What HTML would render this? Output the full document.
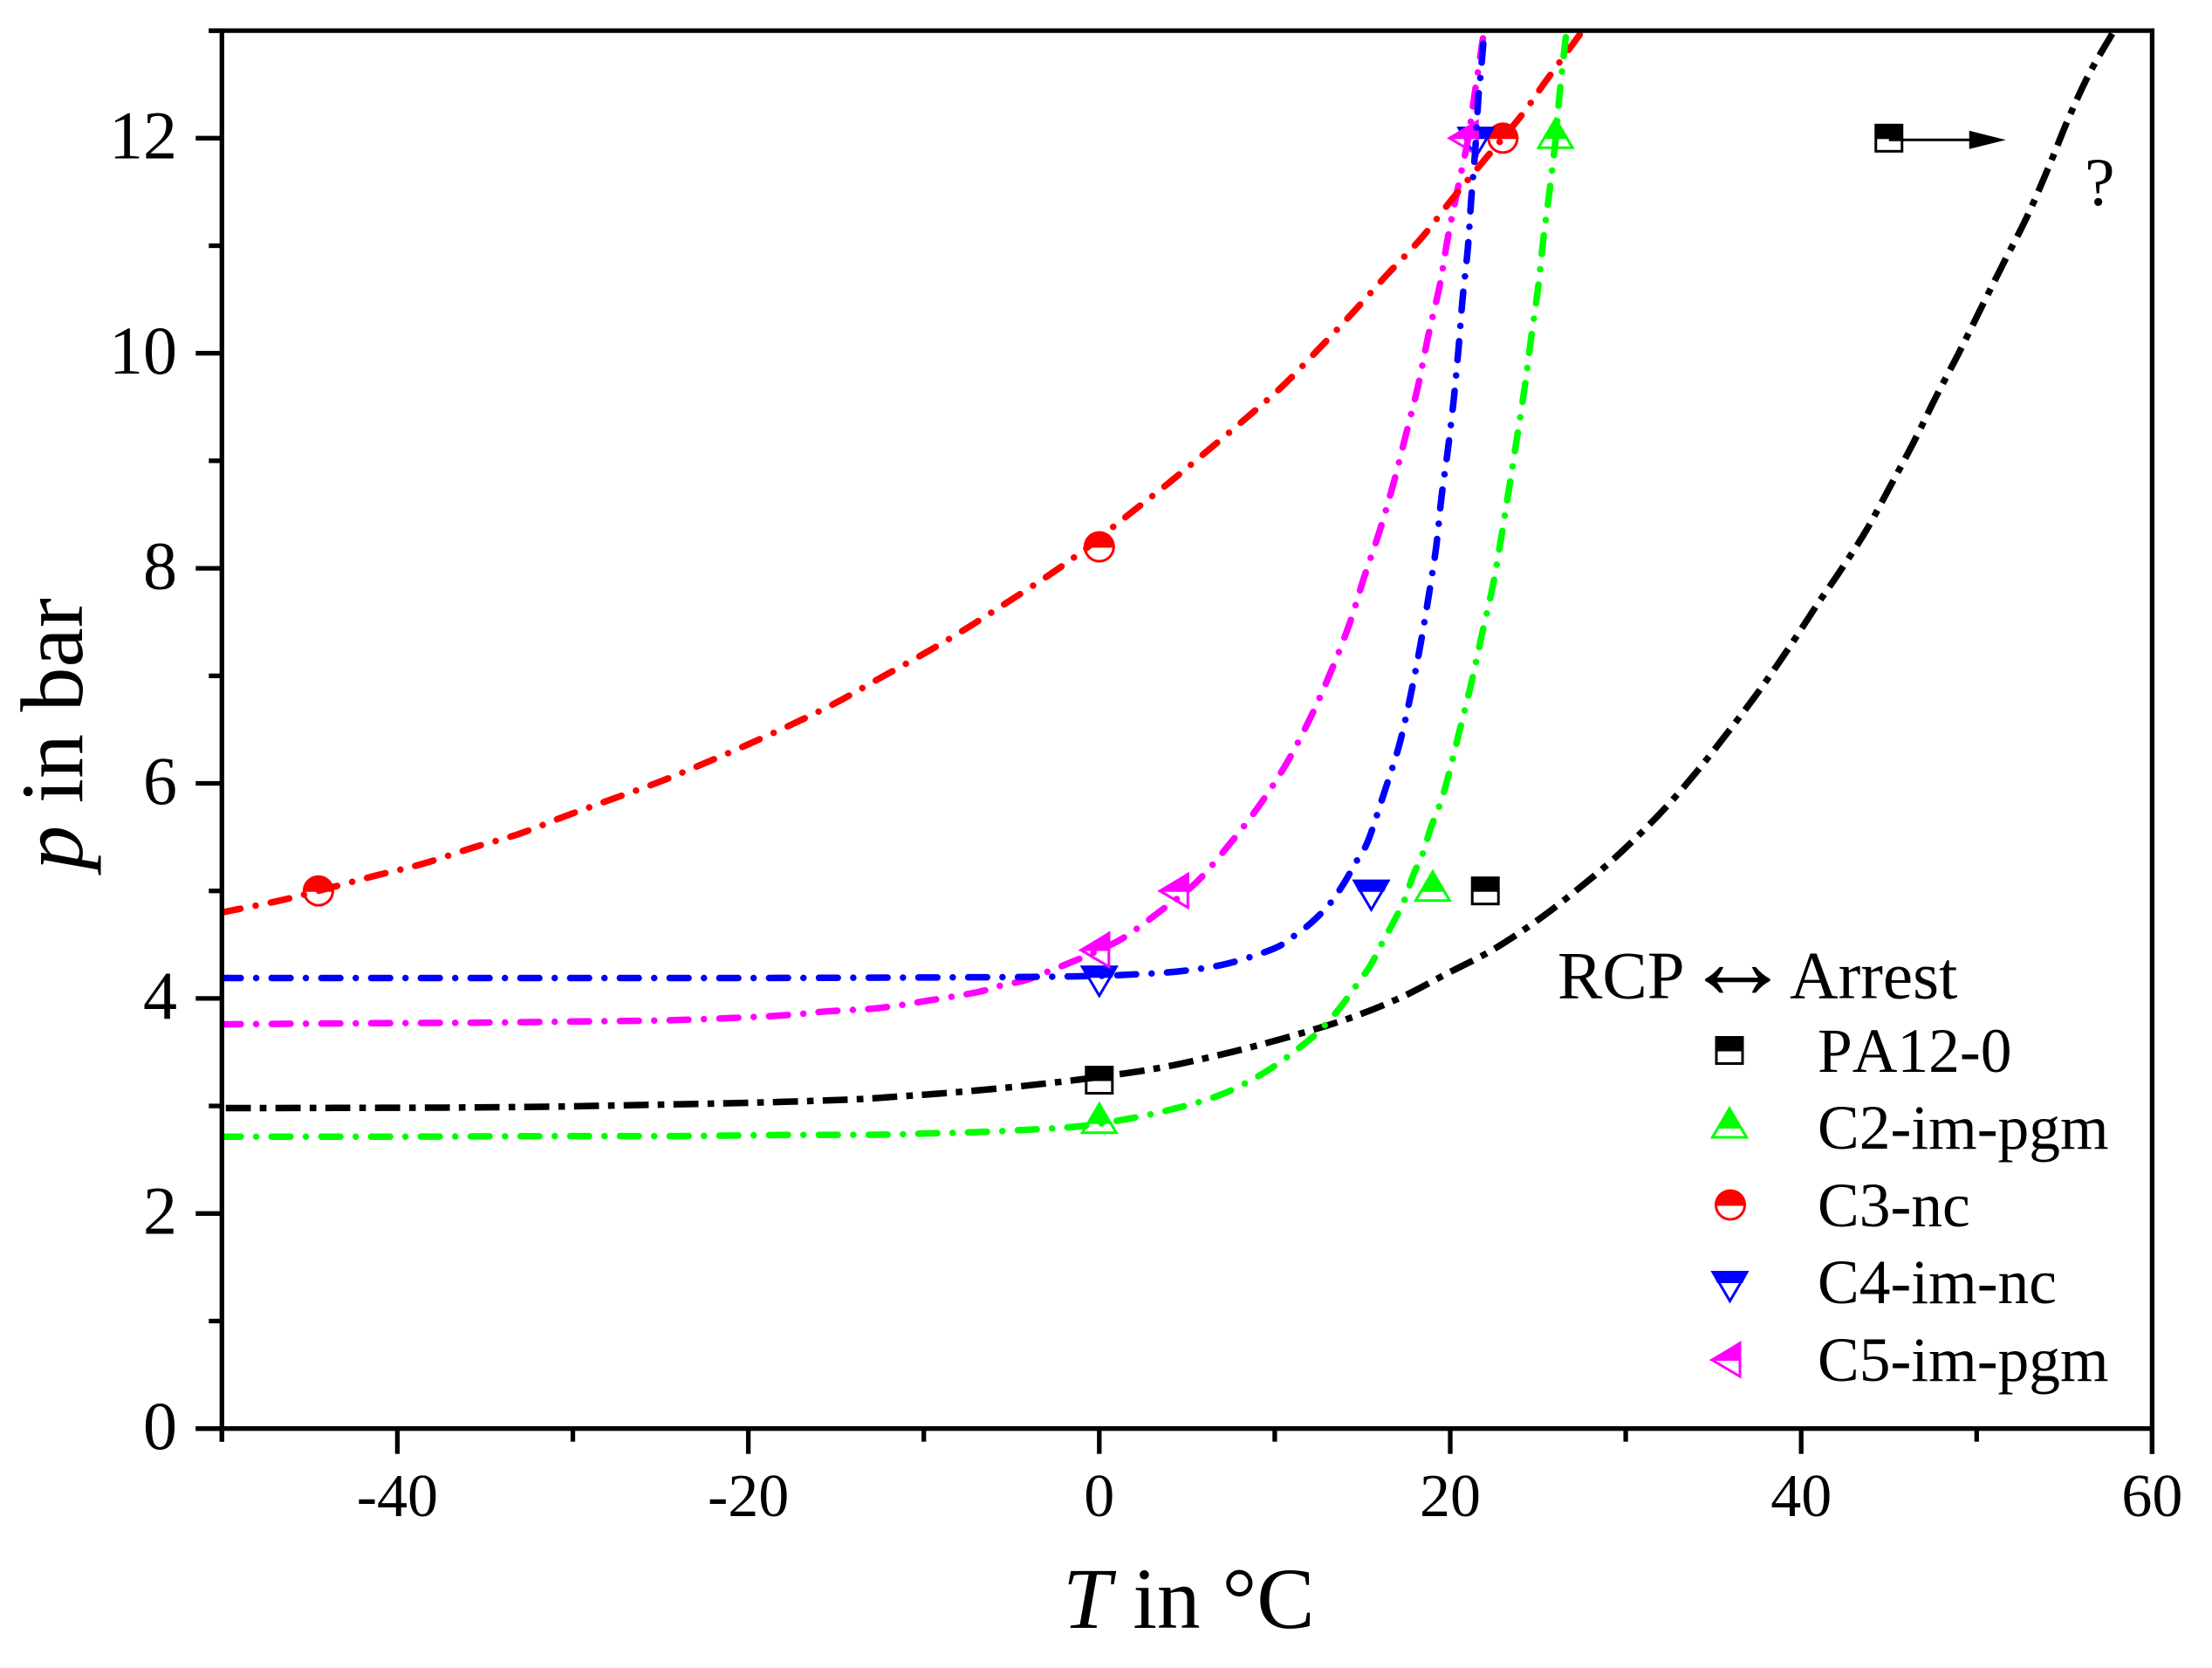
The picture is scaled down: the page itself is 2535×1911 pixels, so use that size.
<!DOCTYPE html>
<html lang="en">
<head>
<meta charset="utf-8">
<title>RCP to Arrest transition chart</title>
<style>
html,body{margin:0;padding:0;background:#fff;}
svg{display:block;font-family:"Liberation Serif","Times New Roman",serif;fill:#000;font-kerning:none;}
</style>
</head>
<body>
<svg id="chart" xmlns="http://www.w3.org/2000/svg" width="2535" height="1911" viewBox="0 0 2535 1911">
  <defs><clipPath id="plot-clip"><rect x="254" y="35" width="2212" height="1602"/></clipPath></defs>
  <rect x="0" y="0" width="2535" height="1911" fill="#fff"/>
  <g id="markers"></g>
  <g id="curves" clip-path="url(#plot-clip)"></g>
  <g id="axes"></g>
  <g id="annotation">
    <text x="2389" y="235" font-size="78">?</text>
  </g>
  <text x="1218" y="1865" font-size="99.5"><tspan font-style="italic">T</tspan> in °C</text>
  <text transform="translate(94 841) rotate(-90)" text-anchor="middle" font-size="102"><tspan font-style="italic">p</tspan> in bar</text>
  <g id="legend">
    <text x="1785" y="1143.5" font-size="77">RCP</text>
    <text x="1991.5" y="1143.5" font-size="126" text-anchor="middle">↔</text>
    <text x="2051" y="1143.5" font-size="77">Arrest</text>
    <text x="2083" y="1228" font-size="71.5">PA12-0</text>
    <text x="2083" y="1316" font-size="71.5">C2-im-pgm</text>
    <text x="2083" y="1405" font-size="71.5">C3-nc</text>
    <text x="2083" y="1493" font-size="71.5">C4-im-nc</text>
    <text x="2083" y="1582" font-size="71.5">C5-im-pgm</text>
  </g>
</svg>
<script>
// ---- axis tick data ----
const xMajorTicks = [-40, -20, 0, 20, 40, 60];
const xMinorTicks = [-50, -30, -10, 10, 30, 50];
const yMajorTicks = [0, 2, 4, 6, 8, 10, 12];
const yMinorTicks = [1, 3, 5, 7, 9, 11, 13];

// ---- measured points (T in C, p in bar) ----
const pa12PointT = [0, 22, 45];
const pa12PointP = [3.24, 5, 12];
const c2PointT = [0, 19, 26];
const c2PointP = [2.84, 5, 12];
const c3PointT = [-44.5, 0, 23];
const c3PointP = [5, 8.2, 12];
const c4PointT = [0, 15.5, 21.46];
const c4PointP = [4.2, 5, 12];
const c5PointT = [0, 4.5, 21];
const c5PointP = [4.45, 5, 12];

// ---- guide curves ----
const pa12CurveT = [-50,-44,-37.3,-31.6,-25.9,-19.9,-14.2,-11.3,-8.36,-5.3,-2.46,0,3.3,6.2,8.95,11.8,14.5,17.2,19.8,22.4,25,27.3,29.4,31.9,33.9,35.75,37.6,39.3,40.9,42.2,43.66,45,46.4,47.7,49.07,50.4,51.57,52.9,54.1,55.25,56.45,57.76];
const pa12CurveP = [2.98,2.982,2.985,2.993,3.01,3.03,3.06,3.09,3.125,3.17,3.22,3.27,3.35,3.45,3.56,3.69,3.83,4.01,4.23,4.45,4.73,5.02,5.31,5.71,6.08,6.46,6.86,7.26,7.66,7.97,8.34,8.74,9.17,9.6,10.03,10.47,10.85,11.28,11.73,12.19,12.61,12.98];
const c5CurveT = [-50,-41,-35.3,-29.6,-23.9,-18.3,-15.5,-12.6,-9.75,-6.9,-5.6,-4.2,-2.93,-1.55,0,1.44,3.38,5.47,7.4,9.1,10.65,12.06,13.2,14.25,15.1,16,16.8,17.5,18.17,18.76,19.4,19.87,20.44,21,21.4,21.92];
const c5CurveP = [3.76,3.77,3.775,3.786,3.8,3.84,3.88,3.91,3.98,4.06,4.12,4.17,4.25,4.34,4.45,4.57,4.8,5.07,5.43,5.79,6.18,6.62,7.04,7.48,7.92,8.36,8.81,9.26,9.7,10.17,10.63,11.08,11.54,11.98,12.42,12.99];
const c4CurveT = [-50,-40,-30,-20,-10,-4,0,1.54,4.43,7.2,9.9,11,12.05,13.08,13.9,14.6,15.3,16.25,17.1,17.73,18.28,18.76,19.2,19.5,19.87,20.2,20.47,20.7,21,21.2,21.43,21.6,21.73,21.95];
const c4CurveP = [4.19,4.19,4.19,4.19,4.195,4.2,4.21,4.22,4.25,4.32,4.46,4.57,4.7,4.87,5.06,5.26,5.46,5.92,6.36,6.81,7.27,7.73,8.2,8.66,9.11,9.57,10.04,10.5,10.97,11.44,11.9,12.37,12.59,13];
const c3CurveT = [-50,-46.7,-44.5,-41.3,-38.6,-35.75,-33.07,-30.36,-27.83,-25.13,-22.6,-20.05,-17.5,-15,-12.6,-10.06,-7.78,-5.47,-2.93,-1.04,1.6,3.93,6.07,8.25,10.35,12.33,14.35,16.34,18.35,20.14,21.96,24.05,25.4,27.5];
const c3CurveP = [4.8,4.91,5,5.14,5.25,5.4,5.53,5.7,5.85,6.01,6.18,6.36,6.55,6.75,6.97,7.2,7.42,7.66,7.93,8.15,8.49,8.79,9.08,9.38,9.68,10.01,10.36,10.72,11.07,11.44,11.8,12.21,12.52,12.99];
const c2CurveT = [-50,-40,-30,-23.9,-18.3,-12.6,-9.75,-6.9,-4,-1.2,1.54,4.33,7,9.5,11.74,12.73,13.7,14.6,15.46,16.1,16.8,17.4,17.9,18.44,18.9,19.4,19.83,20.5,21.2,21.8,22.43,22.9,23.38,23.8,24.24,24.6,25,25.3,25.66,26,26.25,26.62];
const c2CurveP = [2.715,2.715,2.72,2.72,2.73,2.733,2.745,2.757,2.78,2.81,2.877,2.977,3.11,3.32,3.585,3.73,3.91,4.11,4.31,4.51,4.72,4.92,5.15,5.35,5.59,5.8,6.03,6.47,6.93,7.38,7.84,8.28,8.77,9.21,9.68,10.13,10.6,11.05,11.51,11.98,12.44,12.99];

const BLACK = '#000000', GREEN = '#00ff00', RED = '#ff0000', BLUE = '#0000ff', MAGENTA = '#ff00ff';
const NS = 'http://www.w3.org/2000/svg';

function xScale(t) { return 1259.8 + (t * 20.11); }
function yScale(p) { return 1636.7 - (p * 123.2); }

function make(parent, tag, attrs) {
  const el = document.createElementNS(NS, tag);
  for (const k in attrs) el.setAttribute(k, attrs[k]);
  parent.appendChild(el);
  return el;
}

function pts(list) { return list.map(function (q) { return q[0] + ',' + q[1]; }).join(' '); }

// half-filled marker: upper half solid, lower half outlined
function drawMarker(parent, kind, cx, cy, color, name) {
  const g = make(parent, 'g', {});
  
  
  const sw = 3;
  const common = { fill: 'none', stroke: color, 'stroke-width': sw, 'stroke-linejoin': 'miter', 'stroke-miterlimit': 8 };
  if (kind === 'square') {
    make(g, 'rect', { x: cx - 15, y: cy - 15, width: 30, height: 13 + 3, fill: color });
    make(g, 'rect', Object.assign({ x: cx - 15, y: cy - 15, width: 30, height: 30 }, common));
  } else if (kind === 'up') {
    make(g, 'polygon', { points: pts([[cx, cy - 25], [cx + 14.5, cy + 1], [cx - 14.5, cy + 1]]), fill: color });
    make(g, 'polygon', Object.assign({ points: pts([[cx, cy - 22], [cx + 19.5, cy + 11], [cx - 19.5, cy + 11]]) }, common));
  } else if (kind === 'circle') {
    make(g, 'path', { d: 'M' + (cx - 18) + ' ' + (cy + 1) + 'A18 18 0 0 1 ' + (cx + 18) + ' ' + (cy + 1) + 'Z', fill: color });
    make(g, 'circle', Object.assign({ cx: cx, cy: cy, r: 16.5 }, common));
  } else if (kind === 'down') {
    make(g, 'polygon', { points: pts([[cx - 21.5, cy - 13], [cx + 21.5, cy - 13], [cx + 14.5, cy + 1], [cx - 14.5, cy + 1]]), fill: color });
    make(g, 'polygon', Object.assign({ points: pts([[cx - 19.5, cy - 11.5], [cx + 19.5, cy - 11.5], [cx, cy + 21.5]]) }, common));
  } else if (kind === 'left') {
    make(g, 'polygon', { points: pts([[cx + 12.5, cy - 22], [cx + 12.5, cy + 1], [cx - 24, cy + 1]]), fill: color });
    make(g, 'polygon', Object.assign({ points: pts([[cx + 11, cy - 19], [cx + 11, cy + 19], [cx - 21, cy]]) }, common));
  }
  return g;
}

function smoothPath(tArr, pArr) {
  const xs = tArr.map(xScale), ys = pArr.map(yScale);
  let d = 'M' + xs[0].toFixed(2) + ' ' + ys[0].toFixed(2);
  for (let i = 0; i < xs.length - 1; i++) {
    const a = Math.max(i - 1, 0), b = Math.min(i + 2, xs.length - 1);
    const c1x = xs[i] + (xs[i + 1] - xs[a]) / 6, c1y = ys[i] + (ys[i + 1] - ys[a]) / 6;
    const c2x = xs[i + 1] - (xs[b] - xs[i]) / 6, c2y = ys[i + 1] - (ys[b] - ys[i]) / 6;
    d += 'C' + c1x.toFixed(2) + ' ' + c1y.toFixed(2) + ' ' + c2x.toFixed(2) + ' ' + c2y.toFixed(2) + ' ' + xs[i + 1].toFixed(2) + ' ' + ys[i + 1].toFixed(2);
  }
  return d;
}

const axes = document.getElementById('axes');
const markers = document.getElementById('markers');
const curves = document.getElementById('curves');
const annotation = document.getElementById('annotation');
const legend = document.getElementById('legend');
const AW = 5.3;

// markers
function drawSeriesMarkers(kind, tArr, pArr, color, prefix) {
  tArr.forEach(function (t, i) {
    drawMarker(markers, kind, xScale(t), yScale(pArr[i]), color, prefix + '-point-' + (i + 1));
  });
}
drawSeriesMarkers('square', pa12PointT, pa12PointP, BLACK, 'pa12-0');
drawSeriesMarkers('up', c2PointT, c2PointP, GREEN, 'c2-im-pgm');
drawSeriesMarkers('circle', c3PointT, c3PointP, RED, 'c3-nc');
drawSeriesMarkers('down', c4PointT, c4PointP, BLUE, 'c4-im-nc');
drawSeriesMarkers('left', c5PointT, c5PointP, MAGENTA, 'c5-im-pgm');

// curves
const pa12Curve = make(curves, 'path', { d: smoothPath(pa12CurveT, pa12CurveP), fill: 'none', stroke: BLACK, 'stroke-width': 7.5, 'stroke-dasharray': '28.7 10.35 7.6 10.35', 'stroke-dashoffset': -4.5 });


const colourDash = { fill: 'none', 'stroke-width': 7.5, 'stroke-linecap': 'round', 'stroke-dasharray': '21.7 17.65 0.01 17.65' };
const c5Curve = make(curves, 'path', Object.assign({ d: smoothPath(c5CurveT, c5CurveP), stroke: MAGENTA }, colourDash));


const c4Curve = make(curves, 'path', Object.assign({ d: smoothPath(c4CurveT, c4CurveP), stroke: BLUE }, colourDash));


const c3Curve = make(curves, 'path', Object.assign({ d: smoothPath(c3CurveT, c3CurveP), stroke: RED }, colourDash));


const c2Curve = make(curves, 'path', Object.assign({ d: smoothPath(c2CurveT, c2CurveP), stroke: GREEN }, colourDash));



// axis lines
const xMin = xScale(-50), xMax = xScale(60), yTop = yScale(13), yBot = yScale(0);
const topAxis = make(axes, 'line', { x1: xMin - 15, x2: xMax + 2.6, y1: yTop, y2: yTop, stroke: '#000', 'stroke-width': AW });


const rightAxis = make(axes, 'line', { x1: xMax, x2: xMax, y1: yTop - 2.6, y2: yBot + 29, stroke: '#000', 'stroke-width': AW });


const leftAxis = make(axes, 'line', { x1: xMin, x2: xMin, y1: yTop - 2.6, y2: yBot + 15, stroke: '#000', 'stroke-width': AW });


const bottomAxis = make(axes, 'line', { x1: xMin - 30, x2: xMax + 2.6, y1: yBot, y2: yBot, stroke: '#000', 'stroke-width': AW });



// ticks + labels
xMajorTicks.forEach(function (t) {
  const tick = make(axes, 'line', { x1: xScale(t), x2: xScale(t), y1: yBot, y2: yBot + 29, stroke: '#000', 'stroke-width': AW });
  
  
  const label = make(axes, 'text', { x: xScale(t), y: 1737, 'text-anchor': 'middle', 'font-size': 70 });
  
  
  label.textContent = String(t);
});
xMinorTicks.forEach(function (t) {
  const tick = make(axes, 'line', { x1: xScale(t), x2: xScale(t), y1: yBot, y2: yBot + 15, stroke: '#000', 'stroke-width': AW });
  
  
});
yMajorTicks.forEach(function (p) {
  const tick = make(axes, 'line', { x1: xMin - 30, x2: xMin, y1: yScale(p), y2: yScale(p), stroke: '#000', 'stroke-width': AW });
  
  
  const label = make(axes, 'text', { x: 203, y: yScale(p) + 23.4, 'text-anchor': 'end', 'font-size': 78 });
  
  
  label.textContent = String(p);
});
yMinorTicks.forEach(function (p) {
  const tick = make(axes, 'line', { x1: xMin - 15, x2: xMin, y1: yScale(p), y2: yScale(p), stroke: '#000', 'stroke-width': AW });
  
  
});

// arrow from the unbounded PA12-0 point
const arrowStartX = xScale(pa12PointT[2]);
const arrowY = yScale(pa12PointP[2]) + 2;
const arrowLine = make(annotation, 'line', { x1: arrowStartX, x2: arrowStartX + 94, y1: arrowY, y2: arrowY, stroke: '#000', 'stroke-width': 3 });


const arrowHead = make(annotation, 'polygon', { points: pts([[arrowStartX + 92, arrowY - 10.5], [arrowStartX + 134, arrowY], [arrowStartX + 92, arrowY + 10.5]]), fill: '#000' });



// legend symbols
drawMarker(legend, 'square', 1982, 1203.5, BLACK, 'legend-symbol-pa12-0');
drawMarker(legend, 'up', 1982, 1292, GREEN, 'legend-symbol-c2-im-pgm');
drawMarker(legend, 'circle', 1983, 1380.5, RED, 'legend-symbol-c3-nc');
drawMarker(legend, 'down', 1982.5, 1469, BLUE, 'legend-symbol-c4-im-nc');
drawMarker(legend, 'left', 1983, 1558, MAGENTA, 'legend-symbol-c5-im-pgm');
</script>
</body>
</html>
